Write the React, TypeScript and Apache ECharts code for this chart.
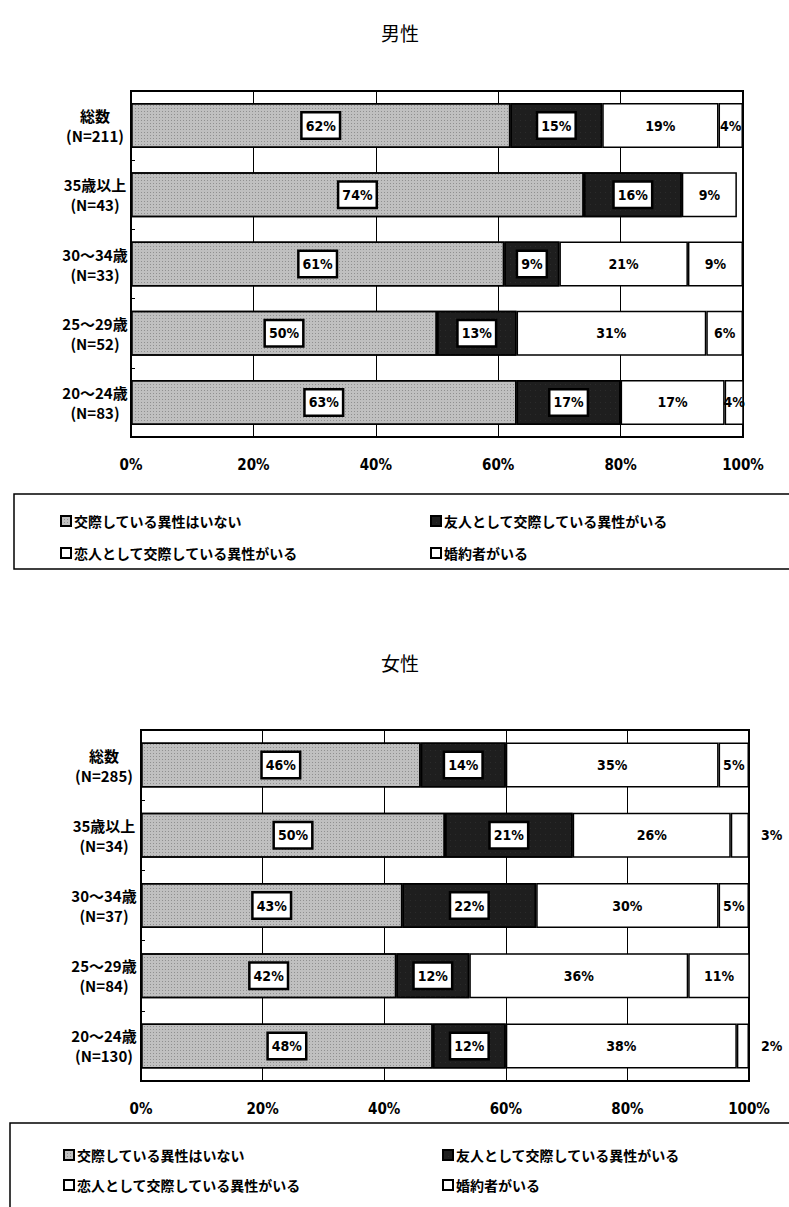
import React, { useEffect, useRef } from "react";
import * as echarts from "echarts";

const seriesNames = [
  "交際している異性はいない",
  "友人として交際している異性がいる",
  "恋人として交際している異性がいる",
  "婚約者がいる",
];

const maleCategories = ["総数\n(N=211)", "35歳以上\n(N=43)", "30〜34歳\n(N=33)", "25〜29歳\n(N=52)", "20〜24歳\n(N=83)"];
const maleNone = [62, 74, 61, 50, 63];
const maleFriend = [15, 16, 9, 13, 17];
const maleLover = [19, 9, 21, 31, 17];
const maleFiance: (number | null)[] = [4, null, 9, 6, 4];

const femaleCategories = ["総数\n(N=285)", "35歳以上\n(N=34)", "30〜34歳\n(N=37)", "25〜29歳\n(N=84)", "20〜24歳\n(N=130)"];
const femaleNone = [46, 50, 43, 42, 48];
const femaleFriend = [14, 21, 22, 12, 12];
const femaleLover = [35, 26, 30, 36, 38];
const femaleFiance = [5, 3, 5, 11, 2];

const xTicks = [0, 20, 40, 60, 80, 100];

const NUM_FONT = "'Liberation Sans Narrow', 'DejaVu Sans Condensed', 'Liberation Sans', sans-serif";
const JP_FONT = "'Noto Sans CJK JP', sans-serif";

const colors = ["#c0c0c0", "#1e1e1e", "#ffffff", "#ffffff"];
const decals: any[] = [
  { symbol: "rect", symbolSize: 0.8, color: "rgba(80,80,80,0.55)", dashArrayX: [1, 2], dashArrayY: [1, 2], rotation: 0 },
  { symbol: "rect", symbolSize: 0.6, color: "rgba(150,150,150,0.35)", dashArrayX: [1, 4], dashArrayY: [1, 5], rotation: 0 },
  undefined,
  undefined,
];

function buildSeries(gridIdx: number, arrays: (number | null)[][]) {
  return arrays.map((arr, si) => {
    const boxed = si < 2;
    const itemStyle: any = { color: colors[si], borderColor: "#000", borderWidth: 1.5 };
    if (decals[si]) itemStyle.decal = decals[si];
    return {
      name: seriesNames[si],
      type: "bar",
      stack: "s" + gridIdx,
      xAxisIndex: gridIdx,
      yAxisIndex: gridIdx,
      barWidth: 45,
      itemStyle,
      label: {
        show: true,
        position: "inside",
        formatter: "{c}%",
        fontFamily: NUM_FONT,
        fontWeight: "bold",
        fontSize: 14,
        color: "#000",
        ...(boxed
          ? { backgroundColor: "#fff", borderColor: "#000", borderWidth: 2.5, padding: [6, 3, 4, 3] }
          : {}),
      },
      data: arr.map((v) => {
        if (v === null) return { value: null, label: { show: false } };
        if (si === 3 && v < 4) {
          return { value: v, label: { position: "right", distance: 12 } };
        }
        return v;
      }),
    };
  });
}

function legendItem(name: string, left: number, top: number) {
  return {
    left,
    top,
    orient: "horizontal",
    itemWidth: 10,
    itemHeight: 10,
    itemGap: 0,
    selectedMode: false,
    icon: "rect",
    textStyle: { fontFamily: JP_FONT, fontWeight: "bold", fontSize: 14, color: "#000", padding: [0, 0, 0, -2] },
    data: [name],
  };
}

export default function App() {
  const ref = useRef<HTMLDivElement>(null);
  useEffect(() => {
    if (!ref.current) return;
    const chart = echarts.init(ref.current, undefined, { renderer: "svg" });
    const grids = [
      { left: 131, top: 91, width: 612, height: 346 },
      { left: 141, top: 730, width: 608, height: 351 },
    ];
    const cats = [maleCategories, femaleCategories];
    const labelMargins = [36, 37];
    chart.setOption({
      animation: false,
      backgroundColor: "#fff",
      title: [
        { text: "男性", left: 395, top: 18, textAlign: "center", textStyle: { fontFamily: JP_FONT, fontWeight: "normal", fontSize: 19, color: "#000" } },
        { text: "女性", left: 395, top: 648, textAlign: "center", textStyle: { fontFamily: JP_FONT, fontWeight: "normal", fontSize: 19, color: "#000" } },
      ],
      legend: [
        legendItem(seriesNames[0], 55, 509),
        legendItem(seriesNames[1], 425, 509),
        legendItem(seriesNames[2], 55, 541),
        legendItem(seriesNames[3], 425, 541),
        legendItem(seriesNames[0], 58, 1143),
        legendItem(seriesNames[1], 437, 1143),
        legendItem(seriesNames[2], 58, 1173),
        legendItem(seriesNames[3], 437, 1173),
      ],
      grid: grids.map((g) => ({ ...g, show: true, borderColor: "#000", borderWidth: 2, backgroundColor: "#fff" })),
      xAxis: grids.map((_, i) => ({
        type: "value",
        gridIndex: i,
        min: 0,
        max: 100,
        interval: 20,
        axisLine: { show: false },
        axisTick: { show: false },
        splitLine: { show: true, lineStyle: { color: "#000", width: 1 } },
        axisLabel: {
          formatter: (v: number) => (xTicks.includes(v) ? v + "%" : ""),
          margin: 20,
          fontFamily: NUM_FONT,
          fontWeight: "bold",
          fontSize: 15,
          color: "#000",
        },
      })),
      yAxis: grids.map((_, i) => ({
        type: "category",
        gridIndex: i,
        inverse: true,
        data: cats[i],
        axisLine: { show: true, lineStyle: { color: "#000", width: 2 } },
        axisTick: { show: true, inside: true, length: 4, lineStyle: { color: "#000" } },
        axisLabel: {
          align: "center",
          margin: labelMargins[i],
          fontFamily: JP_FONT,
          fontWeight: "bold",
          fontSize: 15,
          lineHeight: 20,
          color: "#000",
        },
      })),
      series: [
        ...buildSeries(0, [maleNone, maleFriend, maleLover, maleFiance]),
        ...buildSeries(1, [femaleNone, femaleFriend, femaleLover, femaleFiance]),
      ],
      graphic: [
        { type: "rect", shape: { x: 14, y: 494, width: 800, height: 75 }, style: { fill: "none", stroke: "#000", lineWidth: 1.5 }, z: -1 },
        { type: "rect", shape: { x: 10, y: 1123, width: 800, height: 120 }, style: { fill: "none", stroke: "#000", lineWidth: 1.5 }, z: -1 },
      ],
    });
    return () => chart.dispose();
  }, []);
  return (
    <div
      ref={ref}
      style={{ position: "absolute", left: 0, top: 0, width: 789, height: 1207, background: "#fff" }}
    />
  );
}
